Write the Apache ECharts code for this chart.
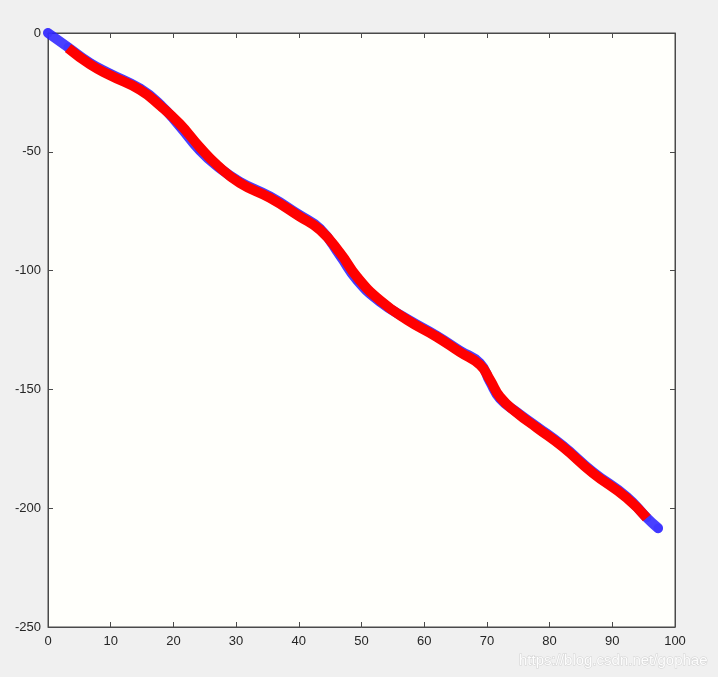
<!DOCTYPE html>
<html>
<head>
<meta charset="utf-8">
<script src="https://cdn.jsdelivr.net/npm/echarts@6/dist/echarts.min.js"></script>
<style>
html,body{margin:0;padding:0;background:#f0f0f0;}
#c{width:718px;height:677px;}
</style>
</head>
<body>
<div id="c"></div>
<script>
// Reference trajectory (blue)
var blueX = [0, 3.2, 6.7, 9.9, 14.7, 17.9, 21.0, 24.2, 27.0, 30.6, 35.4, 40.0, 43.4, 46.6, 49.3, 52.9, 57.3, 62.0, 65.7, 68.9, 70.5, 72.1, 74.8, 78.0, 82.1, 86.9, 92.3, 95.5, 97.3];
var blueY = [0, -6.0, -12.6, -17.1, -23.4, -30.1, -39.2, -49.4, -56.1, -62.6, -68.8, -76.4, -82.4, -93.8, -104.0, -113.0, -120.4, -127.4, -133.7, -139.0, -146.8, -153.9, -159.6, -165.7, -173.7, -184.7, -195.2, -204.0, -208.4];
// Tracked trajectory (red)
var redX = [3.2, 6.7, 9.9, 14.7, 17.9, 21.0, 24.2, 27.0, 30.6, 35.4, 40.0, 43.4, 46.6, 49.3, 52.9, 57.3, 62.0, 65.7, 68.9, 70.5, 72.1, 74.8, 78.0, 82.1, 86.9, 92.3, 95.5];
var redY = [-6.4, -13.2, -17.8, -24.0, -30.6, -38.2, -48.0, -55.6, -63.1, -69.4, -77.0, -82.9, -92.6, -102.7, -112.4, -120.8, -127.9, -134.3, -139.7, -146.0, -153.2, -159.9, -166.2, -174.2, -185.2, -195.7, -204.1];
// Axis ticks
var xTicks = [0, 10, 20, 30, 40, 50, 60, 70, 80, 90, 100];
var yTicks = [0, -50, -100, -150, -200, -250];

function zip(a, b) { return a.map(function (v, i) { return [v, b[i]]; }); }

var lineCol = '#4a4a4a';
var lblStyle = { color: '#262626', fontSize: 13, fontFamily: 'Liberation Sans, Arial, sans-serif' };
var gridTop = 33, gridBottom = 50, chartH = 677;
var plotH = chartH - gridTop - gridBottom;
var TL = 5;

function xAx(showLbl, inside, offset) {
  return {
    type: 'value', position: 'bottom', offset: offset, min: xTicks[0], max: xTicks[xTicks.length - 1], interval: 10,
    axisLine: { show: true, onZero: false, lineStyle: { color: lineCol, width: 1 } },
    axisTick: { show: true, inside: inside, length: TL, lineStyle: { color: lineCol } },
    axisLabel: Object.assign({ show: showLbl, margin: 8 }, lblStyle),
    splitLine: { show: false }
  };
}
function yAx(pos, showLbl) {
  return {
    type: 'value', position: pos, min: yTicks[yTicks.length - 1], max: yTicks[0], interval: 50,
    axisLine: { show: true, onZero: false, lineStyle: { color: lineCol, width: 1 } },
    axisTick: { show: true, inside: true, length: TL, lineStyle: { color: lineCol } },
    axisLabel: Object.assign({ show: showLbl, margin: 7 }, lblStyle),
    splitLine: { show: false }
  };
}

var chart = echarts.init(document.getElementById('c'), null, { renderer: 'canvas' });
chart.setOption({
  backgroundColor: '#f0f0f0',
  animation: false,
  grid: { left: 48, top: gridTop, right: 43, bottom: gridBottom, show: true, backgroundColor: '#fffffb', borderWidth: 1, borderColor: lineCol },
  xAxis: [xAx(true, true, 0), xAx(false, false, -plotH)],
  yAxis: [yAx('left', true), yAx('right', false)],
  graphic: [{
    type: 'text', right: 10, bottom: 8,
    style: { text: 'https://blog.csdn.net/gophae', fill: 'rgba(255,255,255,0.95)', stroke: '#d2d2d2', lineWidth: 1,
      font: '15px "Liberation Sans", Arial, sans-serif' }
  }],
  series: [
    {
      type: 'line', data: zip(blueX, blueY), smooth: 0.5,
      symbol: 'circle', symbolSize: 9, showSymbol: true,
      itemStyle: { color: 'rgba(60,50,255,0.65)', borderWidth: 0 },
      lineStyle: { color: 'rgba(40,30,255,0.85)', width: 10, cap: 'round', join: 'round' },
      z: 2
    },
    {
      type: 'line', data: zip(redX, redY), smooth: 0.5,
      symbol: 'none',
      lineStyle: { color: '#ff0000', width: 10, cap: 'butt', join: 'round' },
      z: 3
    }
  ]
});
</script>
</body>
</html>
